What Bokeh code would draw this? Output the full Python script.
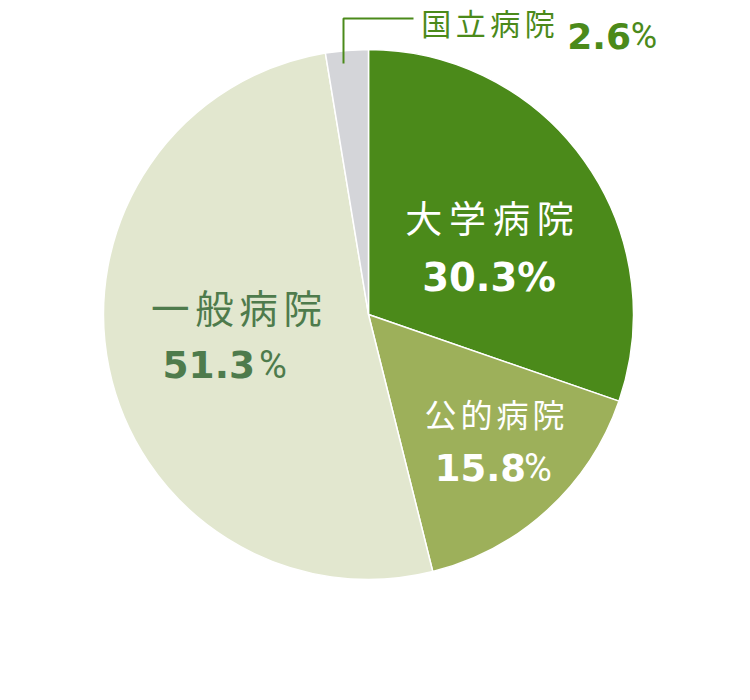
import numpy as np
from bokeh.plotting import figure
from bokeh.models import Range1d, ColumnDataSource
from bokeh.core.properties import value
from bokeh.embed import file_html
from bokeh.resources import INLINE

# ---- data ----
categories = ["大学病院", "公的病院", "一般病院", "国立病院"]
shares = [30.3, 15.8, 51.3, 2.6]
colors = ["#4b8a1a", "#9db05a", "#e2e7cf", "#d4d5d9"]

W, H = 734, 684
def X(px):  # picture px -> data x
    return px
def Y(py):  # picture px -> data y
    return H - py

p = figure(width=W, height=H, output_backend="svg", toolbar_location=None,
           x_range=Range1d(0, W), y_range=Range1d(0, H), min_border=0)
p.axis.visible = False
p.grid.visible = False
p.outline_line_color = None
p.background_fill_color = "white"

vals = np.array(shares)
frac = vals / vals.sum()
cum = np.concatenate([[0], np.cumsum(frac)])
start = np.pi / 2 - cum[:-1] * 2 * np.pi
end = np.pi / 2 - cum[1:] * 2 * np.pi
src = ColumnDataSource(dict(cat=categories, start=start, end=end, color=colors))
p.wedge(x=X(368), y=Y(314), radius=265, start_angle="start", end_angle="end",
        direction="clock", fill_color="color", line_color="white", line_width=1.5,
        source=src)

CJK = value("Noto Sans CJK JP")
NUM = value("DejaVu Sans")
PCT = value("Roboto")

def chars(s, cx, cy, size, pitch, color):
    n = len(s)
    xs = [X(cx + (i - (n - 1) / 2) * pitch) for i in range(n)]
    ys = [Y(cy)] * n
    p.text(x=xs, y=ys, text=list(s), text_font=CJK, text_font_size=f"{size}px",
           text_color=color, text_align="center", text_baseline="middle")

def num(s, x, base, size, color, align="right"):
    p.text(x=[X(x)], y=[Y(base)], text=[s], text_font=NUM, text_font_style="bold",
           text_font_size=f"{size}px", text_color=color, text_align=align,
           text_baseline="alphabetic")

def pct(cx, base, size, color):
    p.text(x=[X(cx)], y=[Y(base)], text=["%"], text_font=PCT,
           text_font_size=f"{size}px", text_color=color, text_align="center",
           text_baseline="alphabetic")

# 大学病院
chars(categories[0], 489, 216.5, 37, 43.8, "white")
num(f"{shares[0]}%", 488.5, 277, 38.5, "white", align="center")
# 公的病院
chars(categories[1], 494, 412.5, 32, 36, "white")
num(f"{shares[1]}", 525.5, 467, 37, "white")
pct(537.5, 467, 38, "white")
# 一般病院
dk = "#4e7b4c"
chars(categories[2], 236, 305.5, 38.5, 44.2, dk)
num(f"{shares[2]}", 254.5, 364, 37.5, dk)
pct(272.5, 364, 38, dk)
# 国立病院
gr = "#4b8a1a"
chars(categories[3], 487.5, 21.5, 30, 34.5, gr)
num(f"{shares[3]}", 630.5, 35, 36, gr)
pct(643.5, 35, 36, gr)
p.line(x=[X(343), X(343), X(413)], y=[Y(63), Y(18), Y(18)], line_color=gr, line_width=2)

open("out.html", "w").write(file_html(p, INLINE))
